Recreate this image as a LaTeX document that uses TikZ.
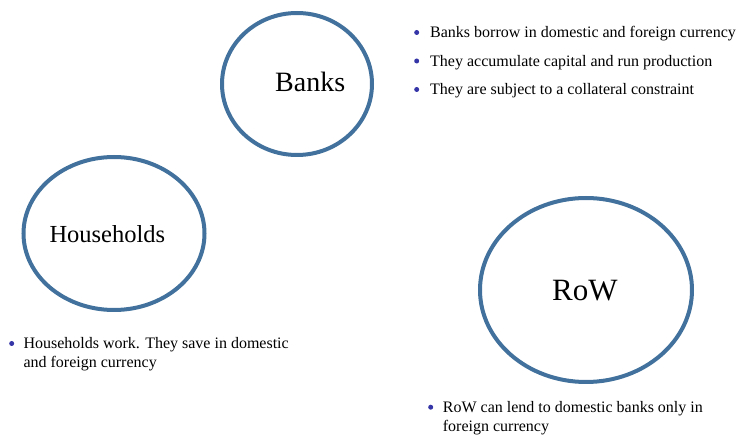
\documentclass[tikz,border=0pt]{standalone}
\usepackage{fontspec}
\setmainfont{Liberation Serif}
\usetikzlibrary{shapes.geometric}
\definecolor{ringblue}{HTML}{41719C}
\definecolor{dotblue}{HTML}{3535A8}
\begin{document}
\begin{tikzpicture}[x=1pt,y=-1pt,
  agent/.style={ellipse, draw=ringblue, line width=4pt, inner sep=0pt},
  agentname/.style={anchor=base west, inner sep=0pt, font=\fontsize{#1}{#1}\selectfont},
  note/.style={anchor=base west, inner sep=0pt, font=\fontsize{16}{19}\selectfont, align=left},
  dot/.style={circle, fill=dotblue, inner sep=0pt, minimum size=5pt}]
\useasboundingbox (0,0) rectangle (740,435);

% the three agents
\node[agent, minimum width=150pt, minimum height=142pt] (banks) at (297,84) {};
\node[agent, minimum width=181pt, minimum height=153pt] (hh) at (114,233.5) {};
\node[agent, minimum width=212pt, minimum height=184pt] (row) at (586,290) {};

\node[agentname=28] (banksname) at (275,91.7) {Banks};
\node[agentname=24.5] (hhname) at (49.3,242.3) {Households};
\node[agentname=31] (rowname) at (552,300.7) {RoW};

% bullet notes next to the banks
\node[dot] (b1dot) at (416.7,32.5) {};
\node[note] (b1) at (430,38) {Banks borrow in domestic and foreign currency};
\node[dot] (b2dot) at (416.7,61) {};
\node[note] (b2) at (430,66.5) {They accumulate capital and run production};
\node[dot] (b3dot) at (416.7,89.5) {};
\node[note] (b3) at (430,95) {They are subject to a collateral constraint};

% two-line notes: the base anchor sits on the last line
\node[dot] (hdot) at (11.7,343.5) {};
\node[note] (hnote) at (23.3,368) {Households work. They save in domestic\\and foreign currency};

\node[dot] (rdot) at (430.7,407.2) {};
\node[note] (rnote) at (442.7,431.7) {RoW can lend to domestic banks only in\\foreign currency};
\end{tikzpicture}
\end{document}
